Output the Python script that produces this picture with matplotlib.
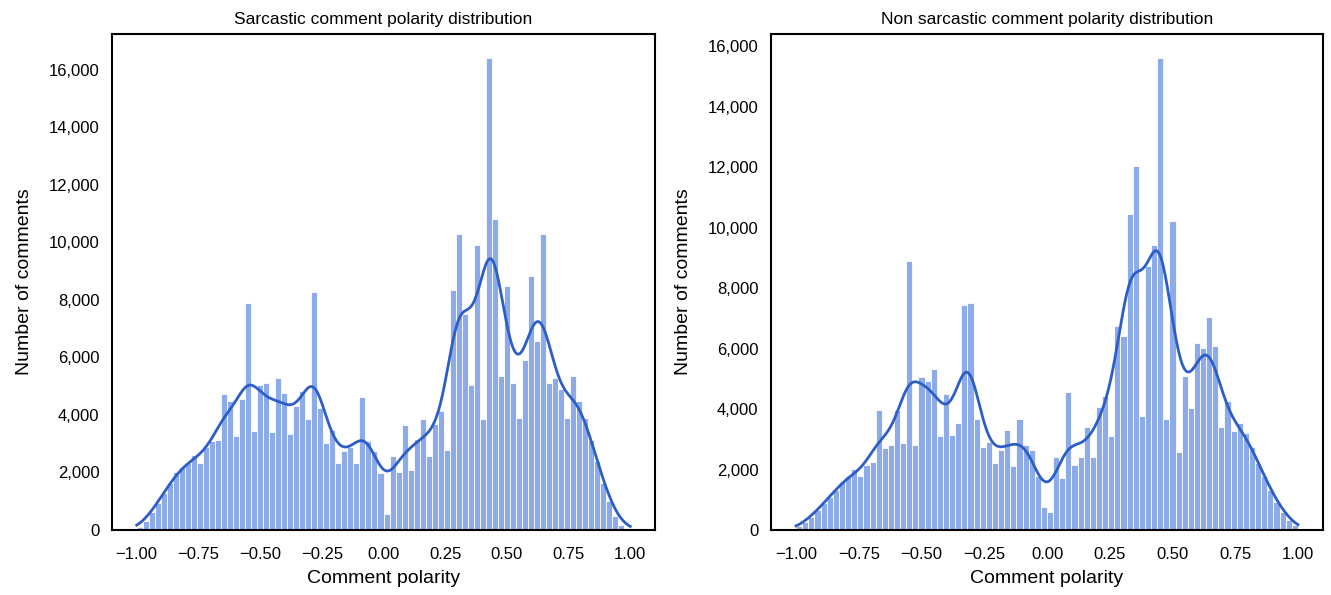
import numpy as np
import matplotlib
matplotlib.use("Agg")
import matplotlib.pyplot as plt
from matplotlib.ticker import FuncFormatter, MultipleLocator

# ---------------- data (counts per bin, 82 bins over [-1, 1]) ----------------
bin_lo, bin_hi, n_bins = -1.0, 1.0, 82

sarcastic_counts = [
    120, 330, 620, 950, 1300, 1620, 2000, 2180, 2330, 2620,
    2330, 2900, 3080, 3130, 4730, 4470, 3270, 4550, 7900, 3450,
    5050, 5110, 3400, 5280, 4780, 3330, 4300, 4840, 3850, 8270,
    4240, 3020, 3480, 2320, 2760, 2900, 2320, 4610, 3080, 2760,
    1970, 560, 2580, 2020, 3660, 2080, 3150, 3850, 2580, 3700,
    4150, 2790, 8340, 10310, 7520, 5050, 9930, 3850, 16430, 10800,
    5340, 8480, 5110, 3890, 5920, 8850, 6560, 10310, 5130, 5280,
    4900, 3890, 5360, 4500, 3900, 3130, 2400, 1650, 1000, 480,
    180, 60,
]

non_sarcastic_counts = [
    130, 280, 420, 660, 900, 1100, 1320, 1600, 1770, 2010,
    1770, 2150, 2260, 3970, 2700, 2820, 3970, 2870, 8910, 2820,
    5050, 4930, 5330, 3120, 4500, 3150, 3530, 7450, 7510, 3670,
    2760, 2900, 2230, 2630, 3310, 2100, 3670, 2820, 2650, 1770,
    770, 610, 2430, 1710, 4550, 2150, 2400, 3420, 2400, 4080,
    4420, 3110, 6730, 6400, 10450, 12030, 3780, 8720, 9440, 15620,
    3670, 10210, 2570, 5100, 4030, 6180, 6020, 7040, 6070, 3420,
    4250, 3260, 3530, 3200, 2760, 2210, 1770, 1320, 940, 610,
    330, 165,
]

titles = ["Sarcastic comment polarity distribution",
          "Non sarcastic comment polarity distribution"]
x_label = "Comment polarity"
y_label = "Number of comments"
x_ticks = [-1.0, -0.75, -0.5, -0.25, 0.0, 0.25, 0.5, 0.75, 1.0]

# ---------------- style ----------------
plt.rcParams['font.family'] = ['Liberation Sans', 'DejaVu Sans']
bar_color = (0.55, 0.67, 0.91)
kde_color = '#2d5ec6'
bandwidth = 0.042

fig = plt.figure(figsize=(13.31, 5.95), dpi=100)
axes_rects = [
    [112 / 1331, 65 / 595, 543 / 1331, 496 / 595],
    [771 / 1331, 65 / 595, 552 / 1331, 496 / 595],
]

edges = np.linspace(bin_lo, bin_hi, n_bins + 1)
centers = 0.5 * (edges[:-1] + edges[1:])
width = edges[1] - edges[0]
grid = np.linspace(bin_lo, bin_hi, 500)


def kde_counts(counts):
    c = np.asarray(counts, dtype=float)
    z = (grid[:, None] - centers[None, :]) / bandwidth
    dens = np.exp(-0.5 * z ** 2) / (bandwidth * np.sqrt(2 * np.pi))
    return width * (dens * c[None, :]).sum(axis=1)


for rect, counts, title in zip(axes_rects, [sarcastic_counts, non_sarcastic_counts], titles):
    ax = fig.add_axes(rect)
    ax.bar(centers, counts, width=width, color=bar_color,
           edgecolor='white', linewidth=0.6, align='center')
    ax.plot(grid, kde_counts(counts), color=kde_color, lw=2.0)
    ax.set_xlim(-1.1, 1.1)
    ax.set_ylim(0, max(counts) * 1.05)
    ax.set_xticks(x_ticks)
    ax.xaxis.set_major_formatter(FuncFormatter(lambda v, p: f"{v:.2f}".replace('-', '\u2212')))
    ax.yaxis.set_major_locator(MultipleLocator(2000))
    ax.yaxis.set_major_formatter(FuncFormatter(lambda v, p: f"{int(v):,}"))
    ax.tick_params(axis='both', length=0, labelsize=12, colors='black')
    ax.tick_params(axis='y', pad=9)
    ax.tick_params(axis='x', pad=12)
    for s in ax.spines.values():
        s.set_color('black')
        s.set_linewidth(1.5)
    ax.set_title(title, fontsize=12.5, pad=7)
    ax.set_xlabel(x_label, fontsize=14, labelpad=6)
    ax.set_ylabel(y_label, fontsize=14, labelpad=11)

fig.savefig("out.png", dpi=100)
